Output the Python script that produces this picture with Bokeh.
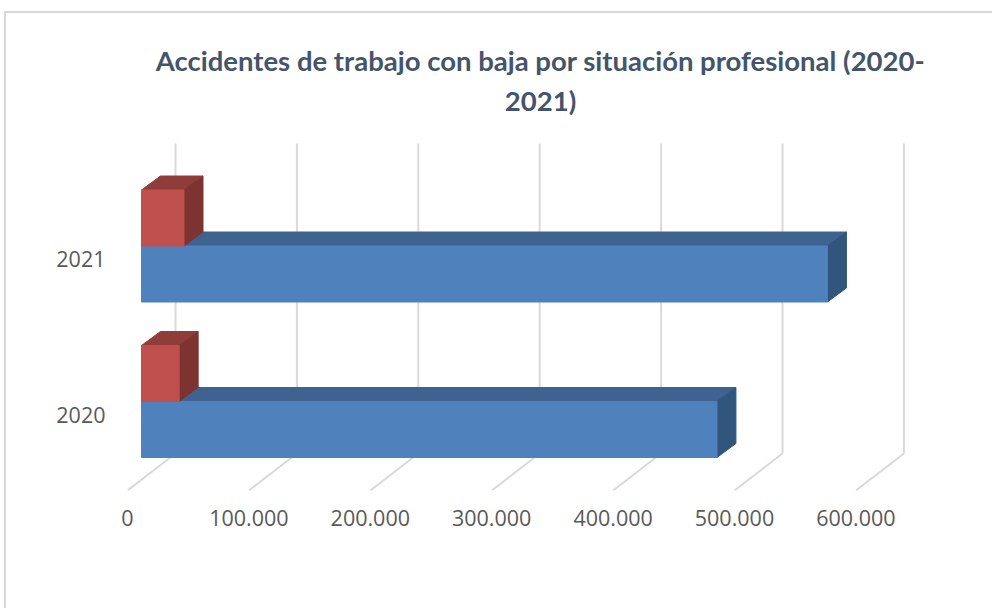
from bokeh.plotting import figure
from bokeh.embed import file_html
from bokeh.resources import INLINE
from bokeh.models import Title, Legend, LegendItem, Range1d, FixedTicker

years = ["2020", "2021"]
asalariados = [474000, 565000]
cuenta_propia = [31000, 35000]
x_ticks = [0, 100000, 200000, 300000, 400000, 500000, 600000]
x_labels = ["0", "100.000", "200.000", "300.000", "400.000", "500.000", "600.000"]

PX_X = 1.214 / 1000      # px per value unit
PX_Y = 155.5             # px per category
FONT = "Open Sans"
GREY = "#595959"
RULE = "linear-gradient(#D9D9D9,#D9D9D9)"

p = figure(frame_width=826, frame_height=368, output_backend="svg", toolbar_location=None,
           x_range=Range1d(0, 826 / PX_X), y_range=Range1d(-76 / PX_Y, 292 / PX_Y),
           min_border_left=127, min_border_right=39, min_border_top=122, min_border_bottom=118,
           outline_line_color=None, background_fill_color="white", border_fill_alpha=0,
           styles={"background-image": f"{RULE},{RULE}",
                   "background-size": "988px 2px, 2px 597px",
                   "background-position": "4px 11px, 4px 11px",
                   "background-repeat": "no-repeat"})
p.grid.visible = False

# axes
p.xaxis.ticker = FixedTicker(ticks=x_ticks)
p.xaxis.major_label_overrides = dict(zip(x_ticks, x_labels))
p.yaxis.ticker = FixedTicker(ticks=list(range(len(years))))
p.yaxis.major_label_overrides = dict(enumerate(years))
for ax in (p.xaxis[0], p.yaxis[0]):
    ax.axis_line_color = None
    ax.major_tick_line_color = None
    ax.minor_tick_line_color = None
    ax.major_label_text_color = GREY
    ax.major_label_text_font = FONT
    ax.major_label_text_font_size = "21.5px"
p.xaxis.major_label_standoff = 13
p.yaxis.major_label_standoff = 16

# back wall and floor lines
wall_dx = 48 / PX_X
wall_floor = 37 / PX_Y
wall_top = 347 / PX_Y
y0 = -76 / PX_Y
p.segment(x0=[t + wall_dx for t in x_ticks], x1=[t + wall_dx for t in x_ticks],
          y0=[y0 + wall_floor] * 7, y1=[y0 + wall_top] * 7, line_color="#D9D9D9", line_width=2)
p.segment(x0=x_ticks, x1=[t + wall_dx for t in x_ticks],
          y0=[y0] * 7, y1=[y0 + wall_floor] * 7, line_color="#D9D9D9", line_width=2)

# 3D bars
front = 14 / PX_X
dep_x = 19 / PX_X
dep_y = 14 / PX_Y
bar_h = 56 / PX_Y
center = 13 / PX_Y


def bar3d(vals, bottoms, face):
    return p.quad(left=[front] * len(vals), right=[front + v for v in vals], bottom=bottoms,
                  top=[b + bar_h for b in bottoms], fill_color=face, line_color=face, line_width=1)


def faces(vals, bottoms, top, side):
    xs_t, ys_t, xs_s, ys_s = [], [], [], []
    for v, b in zip(vals, bottoms):
        x1 = front + v
        xs_t.append([front, x1, x1 + dep_x, front + dep_x])
        ys_t.append([b + bar_h, b + bar_h, b + bar_h + dep_y, b + bar_h + dep_y])
        xs_s.append([x1, x1 + dep_x, x1 + dep_x, x1])
        ys_s.append([b, b + dep_y, b + bar_h + dep_y, b + bar_h])
    p.patches(xs_t, ys_t, fill_color=top, line_color=top)
    p.patches(xs_s, ys_s, fill_color=side, line_color=side)


blue_b = [i + center - bar_h for i in range(len(years))]
red_b = [i + center for i in range(len(years))]
faces(asalariados, blue_b, "#3E6390", "#31557D")
blue = bar3d(asalariados, blue_b, "#4F81BD")
faces(cuenta_propia, red_b, "#8F3D3A", "#7D3330")
red = bar3d(cuenta_propia, red_b, "#C0504D")

# legend
legend = Legend(items=[LegendItem(label="Trabajadores por cuenta propia", renderers=[red]),
                       LegendItem(label="Asalariados", renderers=[blue])],
                orientation="horizontal", location="top_center", border_line_color=None,
                background_fill_alpha=0, label_text_color=GREY, label_text_font=FONT,
                label_text_font_size="21px", glyph_width=15, glyph_height=15,
                spacing=40, label_standoff=4, margin=18, padding=0)
p.add_layout(legend, "below")

# title
t2 = Title(text="2021)", align="center", text_font="Lato", text_font_size="27.5px",
           text_font_style="bold", text_color="#44546A", standoff=11)
t1 = Title(text="Accidentes de trabajo con baja por situación profesional (2020-", align="center",
           text_font="Lato", text_font_size="27.5px", text_font_style="bold", text_color="#44546A", standoff=0)
p.add_layout(t2, "above")
p.add_layout(t1, "above")

open("out.html", "w").write(file_html(p, INLINE))
